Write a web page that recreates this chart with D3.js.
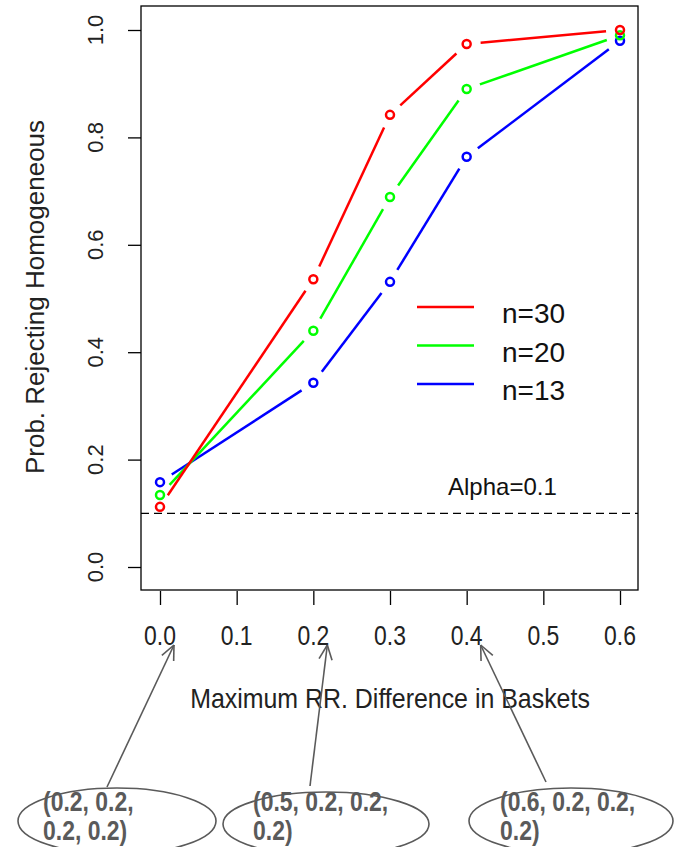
<!DOCTYPE html>
<html>
<head>
<meta charset="utf-8">
<script src="https://cdn.jsdelivr.net/npm/d3@7"></script>
<style>
body { margin: 0; background: #fff; }
text { font-family: "Liberation Sans", Arial, sans-serif; }
</style>
</head>
<body>
<svg id="chart" width="674" height="847"></svg>
<script>
var xValues = [0.0, 0.2, 0.3, 0.4, 0.6];
var seriesNames = ["n=30", "n=20", "n=13"];
var seriesColors = ["#ff0000", "#00ff00", "#0000ff"];
var red30 = [0.112, 0.536, 0.842, 0.974, 1.0];
var green20 = [0.134, 0.440, 0.689, 0.890, 0.990];
var blue13 = [0.158, 0.343, 0.531, 0.764, 0.980];
var xTicks = [0, 0.1, 0.2, 0.3, 0.4, 0.5, 0.6];
var yTicks = [0, 0.2, 0.4, 0.6, 0.8, 1.0];
var alphaLevel = 0.1;
var basketLabels = [["(0.2, 0.2,", "0.2, 0.2)"], ["(0.5, 0.2, 0.2,", "0.2)"], ["(0.6, 0.2, 0.2,", "0.2)"]];
var basketTargets = [0.0, 0.2, 0.4];

var svg = d3.select("#chart");
var box = {left: 141, right: 638, top: 6, bottom: 590};

var x = d3.scaleLinear().domain([0, 0.6]).range([160, 620]);
var y = d3.scaleLinear().domain([0, 1]).range([567, 30]);

// text that is a bit narrower than the font (the picture is stretched)
function addText(px, py, str, size, sx, anchor) {
    var g = svg.append("g").attr("transform", "translate(" + px + "," + py + ") scale(" + sx + ",1)");
    return g.append("text").attr("x", 0).attr("y", 0)
        .attr("text-anchor", anchor || "start")
        .attr("font-size", size).attr("fill", "#222")
        .text(str);
}

// plot box
svg.append("rect")
    .attr("x", box.left).attr("y", box.top)
    .attr("width", box.right - box.left).attr("height", box.bottom - box.top)
    .attr("fill", "none").attr("stroke", "#000").attr("stroke-width", 1.3);

// x axis
var xAxis = svg.append("g").attr("transform", "translate(0," + (box.bottom + 1) + ")")
    .call(d3.axisBottom(x).tickValues(xTicks).tickSize(14).tickFormat(""));
xAxis.select(".domain").remove();
xAxis.selectAll("line").attr("stroke", "#000").attr("stroke-width", 1.3);
xTicks.forEach(function(t) {
    addText(x(t), 645, d3.format(".1f")(t), 27, 0.85, "middle");
});

// y axis
var yAxis = svg.append("g").attr("transform", "translate(" + box.left + ",0)")
    .call(d3.axisLeft(y).tickValues(yTicks).tickSize(13).tickFormat(""));
yAxis.select(".domain").remove();
yAxis.selectAll("line").attr("stroke", "#000").attr("stroke-width", 1.3);
yTicks.forEach(function(t) {
    svg.append("text")
        .attr("transform", "translate(103," + y(t) + ") rotate(-90)")
        .attr("text-anchor", "middle")
        .attr("font-size", 22).attr("fill", "#222")
        .text(d3.format(".1f")(t));
});

// axis titles
svg.append("text")
    .attr("transform", "translate(44,297) rotate(-90)")
    .attr("text-anchor", "middle")
    .attr("font-size", 26).attr("fill", "#222")
    .text("Prob. Rejecting Homogeneous");
addText(390, 708, "Maximum RR. Difference in Baskets", 28, 0.89, "middle");

// alpha reference line
svg.append("line")
    .attr("x1", box.left).attr("x2", box.right)
    .attr("y1", y(alphaLevel)).attr("y2", y(alphaLevel))
    .attr("stroke", "#000").attr("stroke-width", 1.3).attr("stroke-dasharray", "8,5");
addText(448, 495, "Alpha=" + alphaLevel, 24, 1, "start").attr("fill", "#111");

// series, drawn like R type="b" (gaps around points)
var allSeries = [red30, green20, blue13];
var gap = 14;
[2, 1, 0].forEach(function(i) {
    var vals = allSeries[i];
    var pts = xValues.map(function(v, j) { return [x(v), y(vals[j])]; });
    var g = svg.append("g");
    for (var j = 0; j < pts.length - 1; j++) {
        var a = pts[j], b = pts[j + 1];
        var dx = b[0] - a[0], dy = b[1] - a[1];
        var len = Math.sqrt(dx * dx + dy * dy);
        if (len <= 2 * gap) continue;
        var ux = dx / len, uy = dy / len;
        g.append("line")
            .attr("x1", a[0] + ux * gap).attr("y1", a[1] + uy * gap)
            .attr("x2", b[0] - ux * gap).attr("y2", b[1] - uy * gap)
            .attr("stroke", seriesColors[i]).attr("stroke-width", 2.5);
    }
    g.selectAll("circle").data(pts).enter().append("circle")
        .attr("cx", function(d) { return d[0]; })
        .attr("cy", function(d) { return d[1]; })
        .attr("r", 4)
        .attr("fill", "none").attr("stroke", seriesColors[i]).attr("stroke-width", 2.5);
});

// legend
seriesNames.forEach(function(name, i) {
    var ly = 307 + i * 38.5;
    svg.append("line")
        .attr("x1", 417).attr("x2", 474).attr("y1", ly).attr("y2", ly)
        .attr("stroke", seriesColors[i]).attr("stroke-width", 2.5);
    addText(502, ly + 16, name, 28, 1, "start").attr("fill", "#111");
});

// annotations below the axis
var ellipses = [{cx: 117, cy: 821, rx: 99, ry: 33, tx: 43, fx: 107, fy: 787},
                {cx: 326, cy: 824, rx: 103, ry: 32, tx: 253, fx: 310, fy: 786},
                {cx: 571, cy: 821, rx: 102, ry: 33, tx: 500, fx: 546, fy: 782}];
var grey = "#5a5a5a";
ellipses.forEach(function(e, i) {
    svg.append("ellipse")
        .attr("cx", e.cx).attr("cy", e.cy).attr("rx", e.rx).attr("ry", e.ry)
        .attr("fill", "none").attr("stroke", grey).attr("stroke-width", 1.6);
    addText(e.tx, 811, basketLabels[i][0], 27, 0.85, "start")
        .attr("font-weight", "bold").attr("fill", grey);
    addText(e.tx, 840, basketLabels[i][1], 27, 0.85, "start")
        .attr("font-weight", "bold").attr("fill", grey);

    // arrow to the tick label
    var tx = x(basketTargets[i]) + 14, ty = 645;
    var dx = tx - e.fx, dy = ty - e.fy;
    var len = Math.sqrt(dx * dx + dy * dy);
    var ux = dx / len, uy = dy / len;
    svg.append("line")
        .attr("x1", e.fx).attr("y1", e.fy).attr("x2", tx).attr("y2", ty)
        .attr("stroke", grey).attr("stroke-width", 1.6);
    var ah = 16, ang = 0.42;
    [ang, -ang].forEach(function(a) {
        var c = Math.cos(a), s = Math.sin(a);
        var bx = -(ux * c - uy * s), by = -(ux * s + uy * c);
        svg.append("line")
            .attr("x1", tx).attr("y1", ty)
            .attr("x2", tx + bx * ah).attr("y2", ty + by * ah)
            .attr("stroke", grey).attr("stroke-width", 1.6);
    });
});
</script>
</body>
</html>
